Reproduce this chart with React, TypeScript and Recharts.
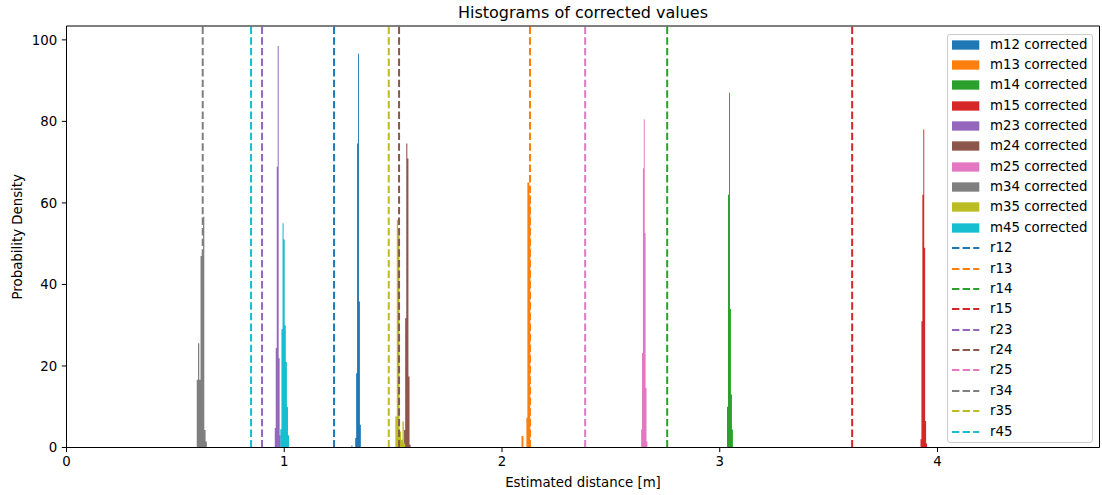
import React from 'react';
import { ComposedChart, Area, XAxis, YAxis, ReferenceLine, Legend, Label } from 'recharts';

const FONT = '"DejaVu Sans", "Liberation Sans", sans-serif';

// Axis ranges and ticks
const X_MAX = 4.744;
const Y_MAX = 103.4;
const X_TICKS = [0, 1, 2, 3, 4];
const Y_TICKS = [0, 20, 40, 60, 80, 100];

// Series names and colours
const PAIRS = ['12', '13', '14', '15', '23', '24', '25', '34', '35', '45'];
const COLORS = ['#1f77b4', '#ff7f0e', '#2ca02c', '#d62728', '#9467bd', '#8c564b', '#e377c2', '#7f7f7f', '#bcbd22', '#17becf'];

// Histogram bins: left edge of first bin, bin width, densities
const HIST_STARTS = [1.3087, 2.0895, 3.0334, 3.9219, 0.9564, 1.5503, 2.639, 0.5981, 1.5103, 0.9821];
const HIST_WIDTHS = [0.0043, 0.0045, 0.0045, 0.0043, 0.0045, 0.005, 0.0041, 0.0058, 0.0065, 0.005];
const m12Density = [0.5, 0, 0, 0, 2.3, 18.2, 74.6, 96.6, 35.8, 5.6];
const m13Density = [2.8, 2.8, 0, 0, 0, 7.3, 65, 65, 62];
const m14Density = [10, 62, 87, 34, 13, 4.4];
const m15Density = [2, 31, 62, 78, 49, 6.5, 1];
const m23Density = [4.8, 24.4, 68.9, 98.5, 21.9, 3];
const m24Density = [4.3, 31.7, 74.6, 70.9, 17.4, 0.7];
const m25Density = [4.4, 23.2, 68.5, 80.5, 52.6, 14.6, 1.5];
const m34Density = [16.6, 25.6, 16.6, 47, 47, 56.6, 4.3, 1.5];
const m35Density = [7.6, 55.9, 52, 3.9, 1.9, 6.4, 1];
const m45Density = [4.5, 29, 55, 51, 30, 21, 10, 3];
const DENSITIES = [m12Density, m13Density, m14Density, m15Density, m23Density, m24Density, m25Density, m34Density, m35Density, m45Density];

// Reference distances r12 ... r45
const REF_VALUES = [1.2288, 2.1285, 2.7586, 3.6081, 0.898, 1.5273, 2.3819, 0.6256, 1.48, 0.8475];

function histPoints(start: number, width: number, dens: number[]) {
  const pts = dens.map((d, i) => ({ x: start + i * width, y: d }));
  pts.push({ x: start + dens.length * width, y: dens[dens.length - 1] });
  return pts;
}

const HISTS = PAIRS.map((p, i) => ({
  name: `m${p} corrected`,
  color: COLORS[i],
  data: histPoints(HIST_STARTS[i], HIST_WIDTHS[i], DENSITIES[i]),
}));

const LEGEND_ENTRIES = [
  ...PAIRS.map((p, i) => ({ label: `m${p} corrected`, color: COLORS[i], kind: 'patch' })),
  ...PAIRS.map((p, i) => ({ label: `r${p}`, color: COLORS[i], kind: 'line' })),
];

const renderLegend = () => (
  <div
    style={{
      position: 'relative',
      width: 146,
      height: 409,
      boxSizing: 'border-box',
      border: '1px solid #cccccc',
      borderRadius: 3,
      background: 'rgba(255,255,255,0.8)',
      fontFamily: FONT,
      fontSize: 13.33,
      color: '#000',
    }}
  >
    {LEGEND_ENTRIES.map((e, i) => (
      <div
        key={e.label}
        style={{ position: 'absolute', left: 0, top: 10 + i * 20.37 - 7, height: 14, width: 144 }}
      >
        <svg width={28} height={14} style={{ position: 'absolute', left: 3.7, top: 0 }}>
          {e.kind === 'patch' ? (
            <rect x={0} y={2.35} width={27.3} height={9.3} fill={e.color} />
          ) : (
            <line x1={0} y1={7} x2={27.3} y2={7} stroke={e.color} strokeWidth={2} strokeDasharray="7.4 3.2" />
          )}
        </svg>
        <div style={{ position: 'absolute', left: 42, top: 0, height: 14, lineHeight: '14px', whiteSpace: 'nowrap' }}>
          {e.label}
        </div>
      </div>
    ))}
  </div>
);

const tickStyle = { fill: '#000', fontSize: 13.33, fontFamily: FONT };

export default function App() {
  return (
    <div style={{ position: 'absolute', left: 0, top: 0, width: 1102, height: 495, background: '#fff' }}>
      <div
        style={{
          position: 'absolute',
          left: 66.5,
          width: 1033,
          top: 4,
          textAlign: 'center',
          fontFamily: FONT,
          fontSize: 16,
          lineHeight: '18px',
          color: '#000',
          zIndex: 2,
        }}
      >
        Histograms of corrected values
      </div>
      <ComposedChart width={1102} height={495} margin={{ top: 26, right: 2.5, bottom: 0, left: 0.5 }}>
        <XAxis
          type="number"
          dataKey="x"
          domain={[0, X_MAX]}
          allowDataOverflow
          ticks={X_TICKS}
          interval={0}
          height={47.5}
          tickSize={4.67}
          tickMargin={4.67}
          stroke="#000"
          tick={tickStyle}
          axisLine={{ stroke: '#000', strokeWidth: 1 }}
          tickLine={{ stroke: '#000', strokeWidth: 1 }}
        >
          <Label
            content={(props: any) => {
              const vb = props.viewBox || { x: 66.5, y: 447.5, width: 1033 };
              return (
                <text
                  x={vb.x + vb.width / 2}
                  y={vb.y + 39.3}
                  textAnchor="middle"
                  fill="#000"
                  fontSize={13.33}
                  fontFamily={FONT}
                >
                  Estimated distance [m]
                </text>
              );
            }}
          />
        </XAxis>
        <YAxis
          type="number"
          dataKey="y"
          domain={[0, Y_MAX]}
          allowDataOverflow
          ticks={Y_TICKS}
          interval={0}
          width={66}
          tickSize={4.67}
          tickMargin={4.67}
          stroke="#000"
          tick={tickStyle}
          axisLine={{ stroke: '#000', strokeWidth: 1 }}
          tickLine={{ stroke: '#000', strokeWidth: 1 }}
        >
          <Label
            content={(props: any) => {
              const vb = props.viewBox || { x: 0.5, y: 26, width: 66, height: 421.5 };
              const cx = 17.5;
              const cy = vb.y + vb.height / 2;
              return (
                <text
                  x={cx}
                  y={cy}
                  transform={`rotate(-90 ${cx} ${cy})`}
                  textAnchor="middle"
                  dominantBaseline="central"
                  fill="#000"
                  fontSize={13.33}
                  fontFamily={FONT}
                >
                  Probability Density
                </text>
              );
            }}
          />
        </YAxis>
        {HISTS.map((h) => (
          <Area
            key={h.name}
            name={h.name}
            data={h.data}
            dataKey="y"
            type="stepAfter"
            stroke="none"
            fill={h.color}
            fillOpacity={1}
            dot={false}
            activeDot={false}
            isAnimationActive={false}
          />
        ))}
        {REF_VALUES.map((v, i) => (
          <ReferenceLine
            key={`r${PAIRS[i]}`}
            x={v}
            stroke={COLORS[i]}
            strokeWidth={2}
            strokeDasharray="7.4 3.2"
          />
        ))}
        <ReferenceLine y={Y_MAX} stroke="#000" strokeWidth={1} />
        <ReferenceLine x={X_MAX} stroke="#000" strokeWidth={1} />
        <Legend
          layout="horizontal"
          verticalAlign="middle"
          align="center"
          content={renderLegend}
          wrapperStyle={{ left: 947, top: 33.5, width: 146, height: 409 }}
        />
      </ComposedChart>
    </div>
  );
}
